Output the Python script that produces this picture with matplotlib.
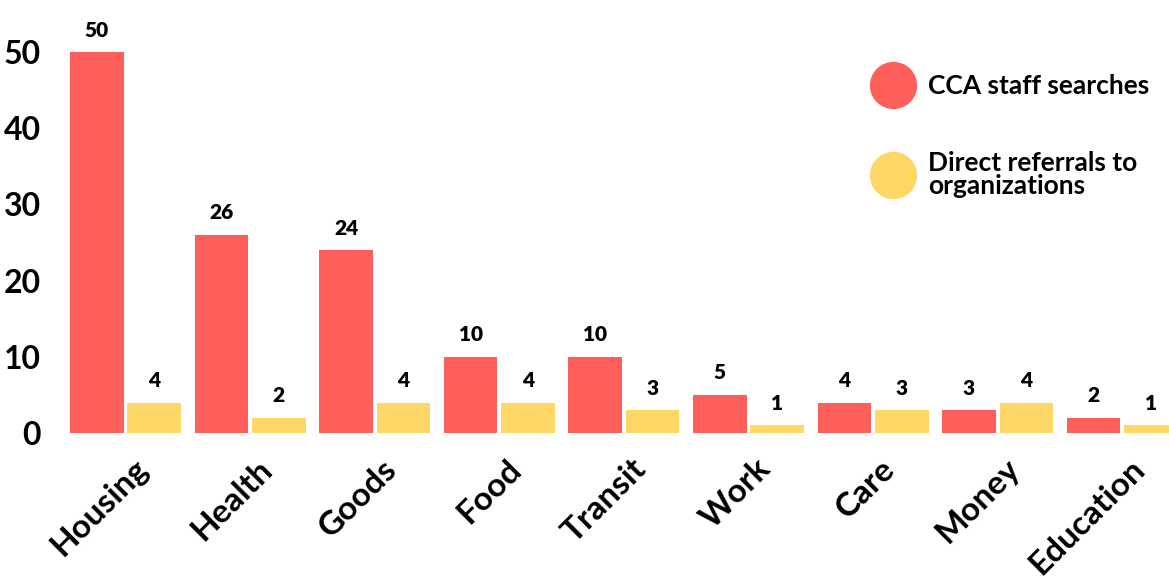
import matplotlib.pyplot as plt
import matplotlib.transforms as mtransforms
from matplotlib.lines import Line2D
import numpy as np

kategorie = ["Housing", "Health", "Goods", "Food", "Transit", "Work", "Care", "Money", "Education"]
wyszukiwania = [50, 26, 24, 10, 10, 5, 4, 3, 2]
skierowania = [4, 2, 4, 4, 3, 1, 3, 4, 1]

czerwony = "#FF5F5A"
zolty = "#FFD766"

plt.rcParams["font.family"] = ["Lato", "DejaVu Sans"]

fig = plt.figure(figsize=(11.69, 5.79), dpi=100)
ax = fig.add_axes([55 / 1169, 146 / 579, 1114 / 1169, 419 / 579])

x = np.arange(len(kategorie))
szerokosc = 0.43
przesuniecie = 0.23

slupkiA = ax.bar(x - przesuniecie, wyszukiwania, szerokosc, color=czerwony)
slupkiB = ax.bar(x + przesuniecie, skierowania, szerokosc, color=zolty)

# wartosci nad slupkami
for slupki in (slupkiA, slupkiB):
    for s in slupki:
        ax.annotate(str(int(s.get_height())),
                    (s.get_x() + s.get_width() / 2, s.get_height()),
                    xytext=(0, 9), textcoords="offset points",
                    ha="center", va="bottom", fontsize=15, fontweight="heavy")

ax.set_xlim(-0.566, 8.375)
ax.set_ylim(0, 55)
ax.set_yticks([0, 10, 20, 30, 40, 50])
ax.tick_params(axis="y", length=0, pad=10, labelsize=23)
for t in ax.get_yticklabels():
    t.set_fontweight("bold")

ax.set_xticks(x)
ax.set_xticklabels(kategorie, rotation=45, ha="right", rotation_mode="anchor",
                   fontsize=24, fontweight="bold")
ax.tick_params(axis="x", length=0, pad=15)
przes = mtransforms.ScaledTranslation(7 / 100, 0, fig.dpi_scale_trans)
for t in ax.get_xticklabels():
    t.set_transform(t.get_transform() + przes)

for sp in ax.spines.values():
    sp.set_visible(False)

uchwyty = [
    Line2D([], [], marker="o", linestyle="", markersize=33, color=czerwony),
    Line2D([], [], marker="o", linestyle="", markersize=33, color=zolty),
]
leg = ax.legend(uchwyty, ["CCA staff searches", "Direct referrals to\norganizations"],
                loc="upper left", bbox_to_anchor=(867 / 1169, 1 - 74 / 579),
                bbox_transform=fig.transFigure, frameon=False,
                prop={"size": 19, "weight": "bold"}, labelspacing=2.0,
                handletextpad=0.3, borderpad=0, borderaxespad=0)
for t in leg.get_texts():
    t.set_linespacing(0.95)

fig.savefig("out.png", dpi=100)
